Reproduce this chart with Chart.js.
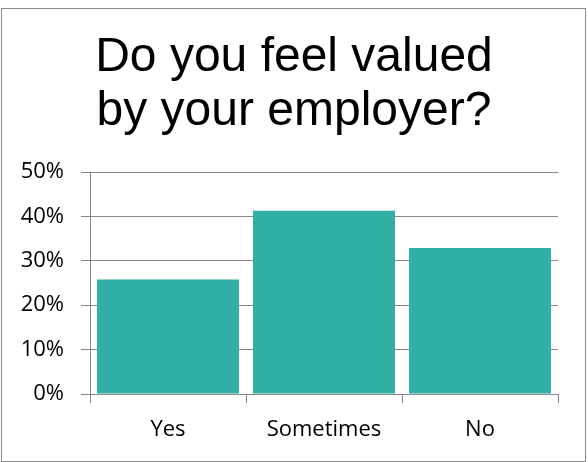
<!DOCTYPE html>
<html>
<head>
<meta charset="utf-8">
<style>
  html, body { margin: 0; padding: 0; background: #ffffff; }
  #wrap { position: relative; width: 588px; height: 462px; }
</style>
<script src="https://cdn.jsdelivr.net/npm/chart.js@4/dist/chart.umd.min.js"></script>
</head>
<body>
<div id="wrap"><canvas id="chart" width="588" height="462"></canvas></div>
<script>
// Survey answers and their shares of respondents (percent)
const categories = ['Yes', 'Sometimes', 'No'];
const shares = [25.8, 41.3, 32.9];
const yTicks = [0, 10, 20, 30, 40, 50];
const titleLines = ['Do you feel valued', 'by your employer?'];

const gridGray = '#878787';
const barTeal = '#31afa5';
const labelFont = { family: '"Open Sans", Lato, sans-serif', size: 22 };

// Thin grey frame around the whole chart
const framePlugin = {
  id: 'frame',
  afterDraw(chart) {
    const ctx = chart.ctx;
    ctx.save();
    ctx.strokeStyle = '#8a8a8a';
    ctx.lineWidth = 1;
    ctx.strokeRect(1.5, 8.5, 584, 453);
    ctx.restore();
  }
};

new Chart(document.getElementById('chart'), {
  type: 'bar',
  data: {
    labels: categories,
    datasets: [{
      data: shares,
      backgroundColor: barTeal,
      borderWidth: 0,
      barPercentage: 0.91,
      categoryPercentage: 1.0,
      yAxisID: 'y'
    }]
  },
  options: {
    responsive: false,
    animation: false,
    devicePixelRatio: 1,
    layout: { padding: { left: 0, right: 0, top: 11, bottom: 0 } },
    plugins: {
      legend: { display: false },
      tooltip: { enabled: false },
      title: {
        display: true,
        text: titleLines,
        color: '#000000',
        font: { family: '"Liberation Sans", Arial, sans-serif', size: 48, weight: 'normal', lineHeight: 1.125 },
        padding: { top: 20, bottom: 33 }
      }
    },
    scales: {
      x: {
        offset: true,
        grid: {
          offset: true,
          drawOnChartArea: false,
          drawTicks: true,
          tickLength: 9,
          color: gridGray,
          lineWidth: 1
        },
        border: { display: true, color: gridGray, width: 1 },
        ticks: {
          color: '#000000',
          font: labelFont,
          padding: 14,
          maxRotation: 0
        },
        afterFit(scale) { scale.height = 68; }
      },
      y: {
        min: 0,
        max: 50,
        afterBuildTicks(scale) { scale.ticks = yTicks.map(v => ({ value: v })); },
        grid: {
          drawTicks: true,
          tickLength: 9,
          color: gridGray,
          lineWidth: 1
        },
        border: { display: true, color: gridGray, width: 1 },
        ticks: {
          color: '#000000',
          font: labelFont,
          padding: 17,
          callback: v => v + '%'
        },
        afterFit(scale) { scale.width = 90; }
      },
      // empty right-hand margin so the title stays centred on the full width
      yRight: {
        position: 'right',
        min: 0,
        max: 50,
        grid: { display: false, drawTicks: false },
        border: { display: false },
        ticks: { display: false },
        afterFit(scale) { scale.width = 30; }
      }
    }
  },
  plugins: [framePlugin]
});
</script>
</body>
</html>
